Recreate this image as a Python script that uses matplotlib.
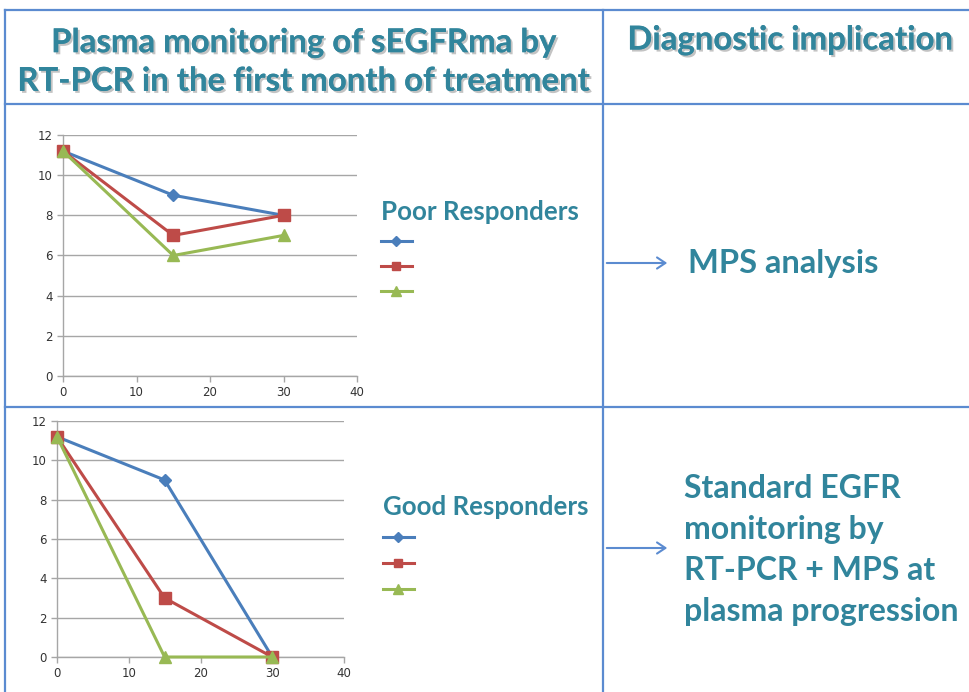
import matplotlib
matplotlib.use("Agg")
import matplotlib.pyplot as plt
from matplotlib.lines import Line2D
import matplotlib.patheffects as pe

# ---- data ----
days = [0, 15, 30]
poor_blue = [11.2, 9, 8]
poor_red = [11.2, 7, 8]
poor_green = [11.2, 6, 7]
good_blue = [11.2, 9, 0]
good_red = [11.2, 3, 0]
good_green = [11.2, 0, 0]
x_ticks = [0, 10, 20, 30, 40]
y_ticks = [0, 2, 4, 6, 8, 10, 12]

header_left = "Plasma monitoring of sEGFRma by\nRT-PCR in the first month of treatment"
header_right = "Diagnostic implication"
poor_title = "Poor Responders"
good_title = "Good Responders"
poor_text = "MPS analysis"
good_text = "Standard EGFR\nmonitoring by\nRT-PCR + MPS at\nplasma progression"

BLUE = "#4A7EBB"
RED = "#BE4B48"
GREEN = "#98B954"
TEAL = "#31859C"
BORDER = "#5B8BD0"
GRID = "#A6A6A6"

W, H = 969, 692
fig = plt.figure(figsize=(W / 100, H / 100), dpi=100)
fig.patch.set_facecolor("white")

def fx(px):
    return px / W

def fy(py):
    return 1 - py / H

# ---- table borders ----
for (x0, y0, x1, y1) in [(5, 10, 5, 692), (5, 10, 969, 10), (5, 104, 969, 104),
                         (5, 407, 969, 407), (603, 10, 603, 692)]:
    fig.add_artist(Line2D([fx(x0), fx(x1)], [fy(y0), fy(y1)], color=BORDER, lw=1.6))

shadow = [pe.withSimplePatchShadow(offset=(1.5, -1.5), shadow_rgbFace="#888888", alpha=0.5), pe.Normal()]
fig.text(fx(303), fy(62), header_left, ha="center", va="center", fontsize=23.7,
         fontweight="bold", family="Lato", color=TEAL, linespacing=1.4, path_effects=shadow)
fig.text(fx(790), fy(40), header_right, ha="center", va="center", fontsize=23.7,
         fontweight="bold", family="Lato", color=TEAL, path_effects=shadow)

def make_chart(rect, series):
    ax = fig.add_axes(rect)
    markers = ["D", "s", "^"]
    msizes = [6, 8, 9]
    colors = [BLUE, RED, GREEN]
    handles = []
    for vals, m, ms, c in zip(series, markers, msizes, colors):
        h, = ax.plot(days, vals, color=c, lw=2.2, marker=m, markersize=ms,
                     markerfacecolor=c, markeredgecolor=c, clip_on=False, zorder=3)
        handles.append(h)
    ax.set_xlim(0, 40)
    ax.set_ylim(0, 12)
    ax.set_xticks(x_ticks)
    ax.set_yticks(y_ticks)
    ax.grid(axis="y", color=GRID, lw=1)
    ax.set_axisbelow(True)
    for s in ["top", "right"]:
        ax.spines[s].set_visible(False)
    for s in ["left", "bottom"]:
        ax.spines[s].set_color(GRID)
        ax.spines[s].set_linewidth(1)
    ax.tick_params(axis="both", colors=GRID, labelcolor="#333333", labelsize=8.5,
                   length=4, width=1, direction="out")
    return ax, handles

ax1, h1 = make_chart([fx(63), fy(376), fx(357) - fx(63), fy(135) - fy(376)],
                     [poor_blue, poor_red, poor_green])
ax2, h2 = make_chart([fx(57), fy(657), fx(344) - fx(57), fy(421) - fy(657)],
                     [good_blue, good_red, good_green])

def add_legend(handles, title, x, y, spacing):
    leg = fig.legend(handles, ["", "", ""], title=title, loc="upper left",
                     bbox_to_anchor=(fx(x), fy(y)), frameon=False, handlelength=2.2,
                     labelspacing=spacing, alignment="left", borderpad=0, borderaxespad=0,
                     handletextpad=0.2, markerscale=0.8,
                     title_fontproperties={"family": "Lato", "weight": "bold", "size": 18.6})
    leg.get_title().set_color(TEAL)
    return leg

add_legend(h1, poor_title, 381, 200, 0.8)
add_legend(h2, good_title, 383, 495, 0.85)

# ---- arrows ----
for yy in [263, 548]:
    fig.add_artist(matplotlib.patches.FancyArrowPatch(
        (fx(604), fy(yy)), (fx(670), fy(yy)), transform=fig.transFigure,
        arrowstyle="->,head_length=6,head_width=4", color=BORDER, lw=1.5))

fig.text(fx(688), fy(263), poor_text, ha="left", va="center", fontsize=23.5,
         fontweight="bold", family="Lato", color=TEAL)
fig.text(fx(684), fy(550), good_text, ha="left", va="center", fontsize=23,
         fontweight="bold", family="Lato", color=TEAL, linespacing=1.5)

fig.savefig("out.png", dpi=100, facecolor="white")
